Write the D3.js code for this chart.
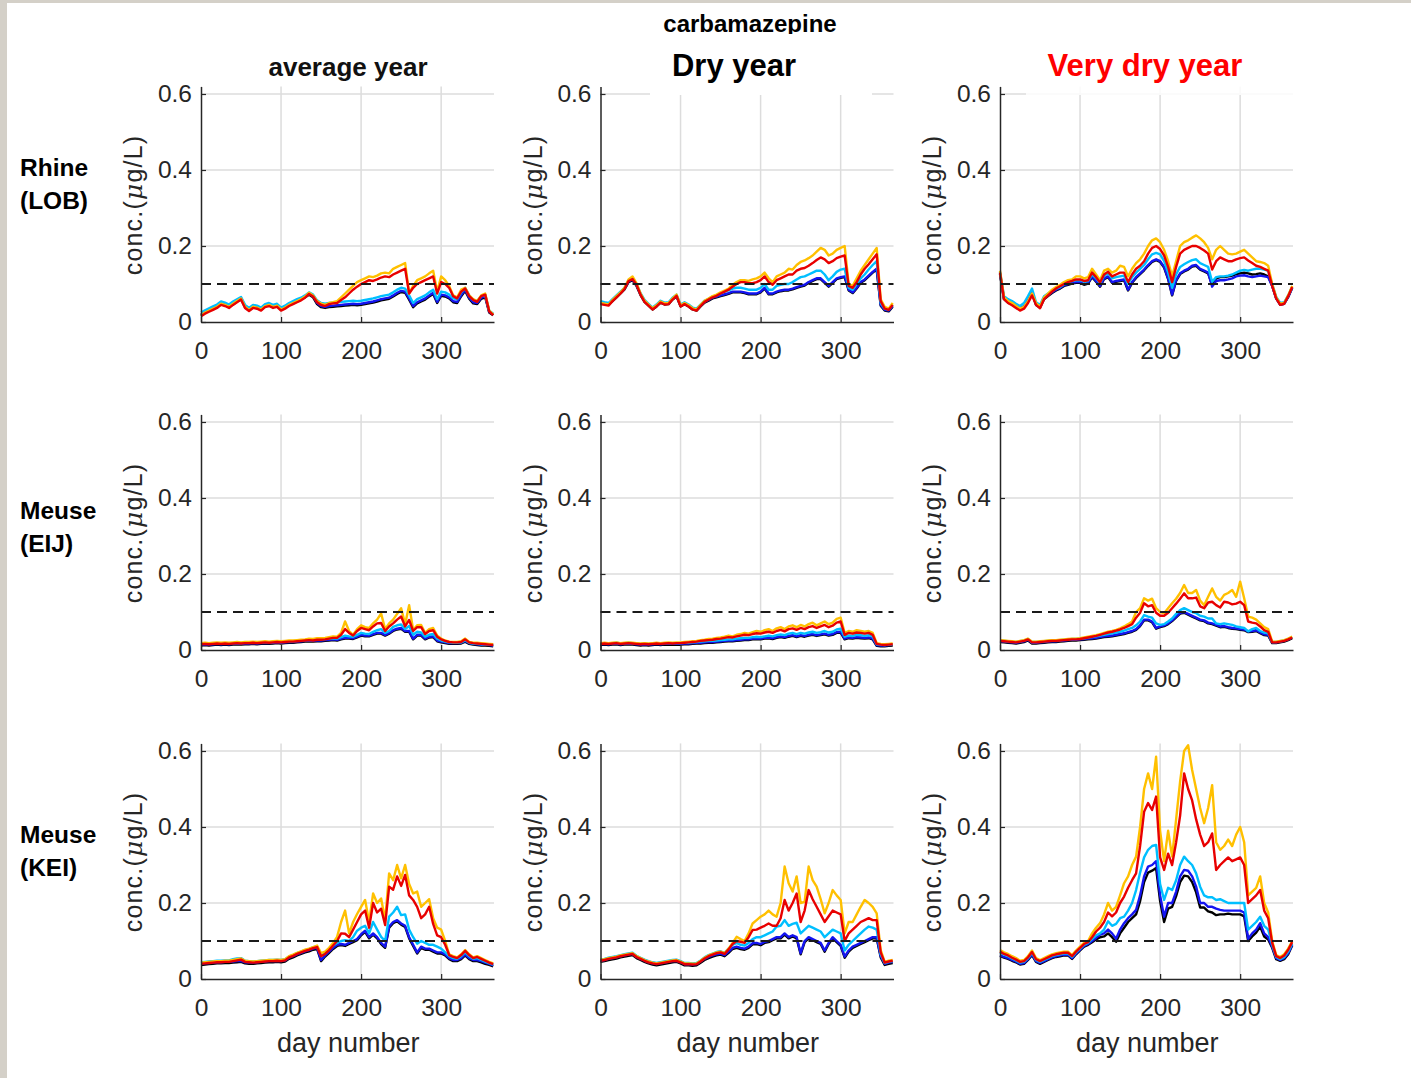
<!DOCTYPE html>
<html>
<head>
<meta charset="utf-8">
<script src="https://cdn.jsdelivr.net/npm/d3@7"></script>
<style>
  body { margin: 0; background: #fff; }
  text { font-family: "Liberation Sans", Arial, Helvetica, sans-serif; }
</style>
</head>
<body>
<script>
// day numbers (every 5th day)
var days = [0,5,10,15,20,25,30,35,40,45,50,55,60,65,70,75,80,85,90,95,
            100,105,110,115,120,125,130,135,140,145,150,155,160,165,170,175,180,185,190,195,
            200,205,210,215,220,225,230,235,240,245,250,255,260,265,270,275,280,285,290,295,
            300,305,310,315,320,325,330,335,340,345,350,355,360,365];

var columnTitles = ["average year", "Dry year", "Very dry year"];
var rowTitles = [["Rhine", "(LOB)"], ["Meuse", "(EIJ)"], ["Meuse", "(KEI)"]];
var yTicks = [0, 0.2, 0.4, 0.6];
var xTicks = [0, 100, 200, 300];
var threshold = 0.1;

// ---- Rhine (LOB) average year
var lobAvgYellow = [.018,.025,.030,.035,.040,.048,.045,.040,.048,.055,
 .062,.040,.032,.040,.038,.033,.042,.045,.040,.043,
 .033,.038,.045,.050,.055,.060,.067,.077,.070,.055,
 .048,.045,.050,.052,.055,.065,.075,.085,.095,.105,
 .110,.115,.120,.118,.122,.128,.130,.128,.140,.145,
 .150,.155,.075,.095,.110,.115,.120,.128,.135,.080,
 .120,.110,.095,.070,.065,.085,.090,.070,.060,.055,
 .070,.075,.030,.020];
var lobAvgRed = [.015,.022,.027,.032,.037,.045,.042,.037,.045,.052,
 .059,.037,.029,.037,.035,.030,.039,.042,.037,.040,
 .030,.035,.042,.047,.052,.057,.064,.074,.067,.052,
 .045,.042,.047,.049,.050,.058,.065,.075,.085,.093,
 .100,.105,.110,.108,.112,.117,.120,.118,.125,.130,
 .135,.140,.075,.090,.100,.105,.110,.115,.120,.075,
 .105,.100,.090,.068,.062,.080,.088,.068,.058,.053,
 .068,.072,.028,.018];
var lobAvgCyan = [.025,.031,.036,.041,.046,.054,.051,.046,.054,.060,
 .066,.045,.037,.045,.043,.038,.047,.050,.045,.048,
 .038,.043,.050,.055,.060,.064,.070,.078,.072,.057,
 .050,.048,.050,.051,.052,.053,.054,.055,.056,.055,
 .056,.058,.060,.062,.065,.068,.070,.072,.078,.085,
 .090,.088,.070,.050,.060,.065,.070,.078,.085,.060,
 .080,.078,.072,.062,.060,.078,.090,.070,.058,.055,
 .068,.072,.030,.022];
var lobAvgBlue = [.020,.027,.032,.037,.042,.050,.047,.042,.050,.057,
 .063,.042,.034,.042,.040,.035,.044,.047,.042,.045,
 .035,.040,.047,.052,.057,.062,.068,.075,.068,.050,
 .042,.040,.042,.043,.044,.045,.046,.047,.048,.047,
 .048,.050,.052,.054,.057,.060,.062,.064,.070,.077,
 .082,.080,.062,.042,.052,.057,.062,.070,.077,.053,
 .072,.070,.065,.055,.053,.071,.085,.064,.052,.050,
 .064,.068,.027,.020];
var lobAvgBlack = [.018,.025,.030,.035,.040,.047,.044,.039,.047,.054,
 .060,.039,.031,.039,.037,.032,.041,.044,.039,.042,
 .032,.037,.044,.049,.054,.059,.065,.072,.065,.047,
 .039,.037,.039,.040,.041,.042,.043,.044,.045,.044,
 .045,.047,.049,.051,.054,.057,.059,.061,.067,.074,
 .079,.077,.059,.039,.049,.054,.059,.067,.074,.050,
 .069,.067,.062,.052,.050,.068,.082,.061,.049,.047,
 .061,.065,.025,.018];

// ---- Rhine (LOB) dry year
var lobDryYellow = [.050,.048,.046,.058,.068,.078,.090,.112,.120,.102,
 .075,.056,.046,.036,.044,.054,.049,.050,.062,.072,
 .044,.050,.044,.036,.033,.045,.056,.062,.068,.072,
 .078,.083,.088,.098,.105,.110,.110,.108,.112,.115,
 .120,.130,.115,.105,.120,.125,.130,.140,.138,.150,
 .158,.162,.168,.175,.185,.195,.190,.175,.180,.190,
 .195,.200,.100,.095,.115,.135,.150,.165,.180,.195,
 .060,.040,.035,.050];
var lobDryRed = [.047,.045,.043,.055,.065,.075,.087,.108,.113,.098,
 .072,.053,.043,.033,.041,.051,.046,.047,.059,.069,
 .041,.047,.041,.033,.030,.042,.053,.059,.065,.069,
 .075,.080,.085,.093,.100,.105,.105,.102,.102,.105,
 .110,.120,.105,.098,.110,.115,.120,.125,.125,.135,
 .140,.142,.148,.155,.163,.170,.165,.155,.160,.168,
 .172,.175,.095,.090,.105,.125,.140,.152,.165,.178,
 .055,.035,.032,.045];
var lobDryCyan = [.055,.052,.050,.060,.070,.080,.090,.110,.115,.100,
 .076,.058,.048,.038,.046,.056,.051,.052,.064,.072,
 .046,.052,.046,.038,.035,.046,.056,.061,.067,.070,
 .075,.080,.083,.088,.090,.090,.088,.085,.085,.085,
 .090,.100,.085,.085,.095,.098,.100,.100,.105,.112,
 .118,.120,.125,.130,.135,.135,.125,.110,.120,.132,
 .138,.140,.090,.085,.100,.115,.125,.138,.150,.160,
 .050,.035,.033,.045];
var lobDryBlue = [.052,.049,.047,.057,.067,.077,.088,.107,.112,.097,
 .073,.055,.045,.035,.043,.053,.048,.049,.061,.069,
 .043,.049,.043,.035,.032,.043,.053,.058,.064,.067,
 .070,.073,.076,.080,.080,.080,.078,.075,.075,.075,
 .080,.090,.075,.075,.080,.083,.085,.085,.088,.092,
 .095,.098,.105,.110,.115,.115,.105,.095,.105,.115,
 .118,.120,.085,.078,.090,.105,.112,.122,.132,.140,
 .045,.032,.030,.042];
var lobDryBlack = [.050,.047,.045,.055,.065,.075,.086,.105,.110,.095,
 .071,.053,.043,.033,.041,.051,.046,.047,.059,.067,
 .041,.047,.041,.033,.030,.041,.051,.056,.062,.065,
 .068,.071,.074,.078,.078,.078,.076,.073,.073,.073,
 .078,.088,.073,.073,.078,.081,.083,.083,.086,.090,
 .093,.096,.103,.108,.113,.113,.103,.093,.103,.113,
 .116,.118,.083,.076,.088,.103,.110,.120,.130,.138,
 .043,.030,.028,.040];

// ---- Rhine (LOB) very dry year
var lobVdryYellow = [.135,.065,.055,.050,.042,.035,.040,.055,.075,.050,
 .040,.065,.075,.085,.092,.098,.105,.110,.112,.120,
 .120,.115,.118,.140,.125,.110,.135,.140,.130,.135,
 .148,.145,.120,.140,.155,.165,.180,.200,.215,.220,
 .210,.190,.160,.120,.160,.200,.210,.215,.222,.228,
 .220,.210,.195,.165,.190,.200,.190,.180,.178,.180,
 .185,.190,.180,.170,.160,.158,.155,.148,.100,.065,
 .048,.050,.070,.095];
var lobVdryRed = [.130,.060,.050,.044,.037,.030,.035,.050,.070,.045,
 .036,.060,.070,.080,.088,.094,.100,.105,.108,.112,
 .112,.108,.110,.130,.118,.104,.125,.132,.120,.125,
 .130,.130,.105,.125,.140,.148,.160,.180,.195,.200,
 .192,.175,.145,.105,.145,.180,.190,.195,.200,.200,
 .195,.188,.180,.138,.160,.170,.165,.160,.160,.165,
 .168,.170,.162,.155,.148,.145,.140,.135,.095,.062,
 .045,.048,.068,.092];
var lobVdryCyan = [.132,.068,.060,.055,.048,.042,.050,.068,.088,.052,
 .045,.068,.075,.082,.088,.092,.100,.105,.108,.110,
 .110,.106,.108,.125,.115,.102,.122,.128,.115,.118,
 .120,.122,.100,.118,.130,.140,.150,.165,.178,.182,
 .178,.160,.130,.090,.125,.145,.152,.158,.163,.165,
 .155,.150,.145,.106,.118,.120,.120,.122,.125,.130,
 .135,.137,.135,.138,.140,.140,.138,.135,.100,.066,
 .050,.052,.070,.093];
var lobVdryBlue = [.128,.062,.053,.048,.042,.036,.042,.058,.078,.047,
 .040,.062,.070,.078,.085,.090,.097,.100,.103,.105,
 .105,.100,.103,.120,.108,.095,.115,.120,.105,.108,
 .110,.112,.085,.105,.118,.128,.138,.150,.160,.165,
 .160,.145,.115,.072,.110,.128,.135,.140,.148,.150,
 .140,.135,.130,.093,.108,.110,.110,.112,.115,.120,
 .122,.123,.120,.118,.120,.122,.120,.118,.095,.062,
 .046,.048,.066,.090];
var lobVdryBlack = [.126,.060,.051,.046,.040,.034,.040,.056,.076,.045,
 .038,.060,.068,.076,.083,.088,.095,.098,.101,.103,
 .103,.098,.101,.118,.106,.093,.113,.118,.103,.106,
 .108,.110,.083,.103,.116,.126,.136,.148,.158,.163,
 .158,.143,.113,.070,.108,.126,.133,.138,.146,.148,
 .138,.133,.128,.098,.115,.118,.118,.120,.122,.126,
 .128,.130,.128,.125,.126,.128,.125,.120,.095,.062,
 .046,.048,.066,.090];

// ---- Meuse (EIJ) average year
var eijAvgYellow = [.018,.019,.018,.019,.020,.019,.020,.019,.020,.021,
 .020,.021,.021,.022,.021,.022,.023,.022,.023,.024,
 .023,.024,.025,.025,.026,.027,.028,.030,.029,.031,
 .031,.032,.034,.036,.035,.045,.075,.050,.040,.055,
 .065,.060,.058,.070,.080,.096,.055,.070,.080,.095,
 .110,.068,.118,.053,.065,.066,.045,.055,.058,.038,
 .030,.025,.022,.021,.021,.023,.030,.021,.019,.019,
 .018,.017,.016,.015];
var eijAvgRed = [.015,.016,.015,.016,.017,.016,.017,.016,.017,.018,
 .017,.018,.018,.019,.018,.019,.020,.019,.020,.021,
 .020,.021,.022,.022,.023,.024,.025,.026,.025,.027,
 .027,.028,.030,.032,.032,.040,.055,.045,.038,.050,
 .058,.055,.052,.062,.070,.071,.050,.062,.070,.080,
 .088,.062,.079,.050,.060,.060,.042,.050,.052,.035,
 .028,.024,.021,.020,.020,.021,.028,.020,.018,.017,
 .016,.015,.014,.013];
var eijAvgCyan = [.016,.017,.016,.017,.018,.017,.018,.017,.018,.019,
 .018,.019,.019,.020,.019,.020,.021,.020,.021,.022,
 .021,.022,.023,.023,.024,.025,.026,.027,.026,.028,
 .028,.029,.030,.031,.030,.034,.038,.036,.035,.040,
 .045,.043,.042,.048,.052,.055,.045,.050,.061,.065,
 .067,.055,.063,.040,.048,.046,.035,.040,.042,.030,
 .025,.022,.020,.019,.019,.020,.026,.019,.017,.016,
 .015,.015,.014,.013];
var eijAvgBlue = [.014,.015,.014,.015,.016,.015,.016,.015,.016,.017,
 .016,.017,.017,.018,.017,.018,.019,.018,.019,.020,
 .019,.020,.021,.021,.022,.023,.024,.025,.024,.025,
 .025,.026,.027,.028,.027,.030,.032,.032,.031,.035,
 .040,.038,.038,.042,.045,.045,.040,.045,.052,.056,
 .058,.050,.050,.030,.040,.040,.030,.035,.036,.025,
 .022,.020,.018,.018,.018,.019,.024,.018,.016,.015,
 .014,.014,.013,.012];
var eijAvgBlack = [.012,.013,.012,.013,.014,.013,.014,.013,.014,.015,
 .014,.015,.015,.016,.015,.016,.017,.016,.017,.018,
 .017,.018,.019,.019,.020,.021,.022,.023,.022,.023,
 .023,.024,.025,.026,.025,.028,.030,.030,.029,.033,
 .038,.036,.036,.040,.043,.043,.038,.043,.050,.054,
 .056,.048,.048,.028,.038,.038,.028,.033,.034,.023,
 .020,.018,.016,.016,.016,.017,.022,.016,.014,.013,
 .012,.012,.011,.010];

// ---- Meuse (EIJ) dry year
var eijDryYellow = [.018,.019,.018,.019,.020,.018,.019,.020,.019,.018,
 .017,.018,.017,.018,.019,.018,.019,.020,.019,.020,
 .020,.021,.022,.023,.024,.026,.027,.029,.030,.032,
 .033,.035,.038,.036,.040,.042,.045,.043,.047,.050,
 .048,.052,.055,.050,.057,.060,.055,.062,.065,.060,
 .066,.062,.068,.072,.065,.070,.075,.068,.072,.082,
 .085,.045,.050,.048,.052,.050,.048,.050,.045,.018,
 .016,.015,.016,.017];
var eijDryRed = [.016,.017,.016,.017,.018,.016,.017,.018,.017,.016,
 .015,.016,.015,.016,.017,.016,.017,.018,.017,.018,
 .018,.019,.020,.021,.022,.024,.025,.026,.027,.029,
 .030,.032,.034,.033,.036,.038,.040,.039,.042,.044,
 .043,.046,.048,.045,.050,.053,.049,.055,.057,.053,
 .058,.055,.060,.063,.058,.062,.066,.060,.064,.072,
 .075,.040,.045,.043,.046,.045,.043,.045,.040,.016,
 .014,.013,.014,.015];
var eijDryCyan = [.017,.018,.017,.018,.019,.017,.018,.019,.018,.017,
 .016,.017,.016,.017,.018,.017,.018,.018,.018,.018,
 .018,.019,.019,.020,.021,.022,.023,.024,.024,.025,
 .026,.027,.028,.028,.030,.031,.032,.032,.034,.035,
 .034,.036,.038,.036,.039,.041,.039,.043,.045,.042,
 .045,.043,.046,.048,.045,.047,.050,.046,.048,.054,
 .056,.035,.038,.037,.040,.039,.037,.039,.035,.015,
 .014,.013,.014,.015];
var eijDryBlue = [.015,.016,.015,.016,.017,.015,.016,.017,.016,.015,
 .014,.015,.014,.015,.016,.015,.016,.016,.016,.016,
 .016,.017,.017,.018,.019,.019,.020,.021,.021,.022,
 .023,.024,.025,.025,.026,.027,.028,.028,.030,.031,
 .030,.032,.033,.031,.034,.036,.034,.037,.039,.036,
 .039,.037,.040,.042,.039,.041,.043,.040,.042,.047,
 .048,.030,.033,.032,.034,.033,.032,.033,.030,.013,
 .012,.012,.013,.014];
var eijDryBlack = [.013,.014,.013,.014,.015,.013,.014,.015,.014,.013,
 .012,.013,.012,.013,.014,.013,.014,.014,.014,.014,
 .014,.015,.015,.016,.017,.017,.018,.019,.019,.020,
 .021,.022,.023,.023,.024,.025,.026,.026,.028,.029,
 .028,.030,.031,.029,.032,.034,.032,.035,.037,.034,
 .037,.035,.038,.040,.037,.039,.041,.038,.040,.045,
 .046,.028,.031,.030,.032,.031,.030,.031,.028,.011,
 .010,.010,.011,.012];

// ---- Meuse (EIJ) very dry year
var eijVdryYellow = [.026,.025,.024,.023,.022,.024,.026,.030,.022,.022,
 .023,.024,.025,.026,.026,.027,.028,.029,.030,.030,
 .031,.033,.035,.037,.039,.042,.045,.048,.050,.053,
 .057,.062,.068,.075,.100,.110,.136,.130,.135,.110,
 .100,.097,.110,.123,.135,.150,.171,.150,.150,.158,
 .130,.118,.140,.162,.140,.130,.145,.150,.158,.140,
 .180,.136,.088,.085,.080,.070,.060,.055,.022,.022,
 .024,.026,.030,.035];
var eijVdryRed = [.024,.023,.022,.021,.020,.022,.024,.028,.020,.020,
 .021,.022,.023,.024,.024,.025,.026,.027,.028,.028,
 .029,.031,.033,.035,.037,.040,.043,.046,.048,.051,
 .054,.058,.063,.068,.085,.098,.123,.115,.118,.098,
 .090,.090,.098,.110,.122,.135,.149,.136,.136,.138,
 .115,.110,.125,.127,.118,.112,.127,.125,.120,.122,
 .127,.118,.075,.072,.070,.062,.052,.048,.020,.020,
 .022,.024,.028,.033];
var eijVdryCyan = [.025,.024,.023,.022,.021,.023,.025,.029,.021,.021,
 .022,.023,.024,.025,.025,.026,.027,.028,.029,.029,
 .030,.031,.033,.034,.036,.038,.040,.042,.044,.046,
 .048,.051,.055,.058,.065,.075,.092,.088,.085,.070,
 .066,.068,.075,.083,.095,.105,.110,.105,.100,.097,
 .090,.088,.083,.083,.070,.068,.070,.068,.066,.062,
 .060,.058,.049,.055,.058,.050,.046,.044,.021,.021,
 .023,.025,.029,.034];
var eijVdryBlue = [.023,.022,.021,.020,.019,.021,.023,.027,.019,.019,
 .020,.021,.022,.023,.023,.024,.025,.026,.027,.027,
 .028,.029,.030,.031,.032,.034,.036,.037,.038,.040,
 .042,.044,.047,.050,.055,.065,.080,.080,.075,.058,
 .062,.065,.070,.078,.088,.098,.100,.095,.090,.085,
 .080,.078,.072,.070,.066,.062,.063,.060,.058,.057,
 .055,.054,.049,.050,.052,.046,.041,.040,.020,.020,
 .022,.024,.028,.033];
var eijVdryBlack = [.021,.020,.019,.018,.017,.019,.021,.025,.017,.017,
 .018,.019,.020,.021,.021,.022,.023,.024,.025,.025,
 .026,.027,.028,.029,.030,.032,.034,.035,.036,.038,
 .040,.042,.045,.048,.053,.063,.078,.078,.073,.056,
 .060,.063,.068,.076,.086,.096,.098,.093,.088,.083,
 .078,.076,.070,.068,.064,.060,.061,.058,.056,.055,
 .053,.052,.047,.048,.050,.044,.039,.038,.018,.018,
 .020,.022,.026,.031];

// ---- Meuse (KEI) average year
var keiAvgYellow = [.043,.044,.045,.046,.047,.047,.048,.048,.050,.052,
 .054,.048,.047,.046,.047,.048,.049,.050,.050,.051,
 .050,.052,.060,.064,.069,.073,.077,.080,.084,.088,
 .068,.072,.082,.095,.111,.150,.180,.120,.150,.171,
 .190,.208,.150,.225,.200,.212,.155,.278,.260,.300,
 .265,.300,.250,.225,.230,.190,.200,.210,.160,.135,
 .130,.100,.065,.060,.057,.065,.076,.065,.057,.060,
 .055,.050,.045,.041];
var keiAvgRed = [.040,.041,.042,.043,.044,.044,.045,.045,.047,.049,
 .051,.045,.044,.043,.044,.045,.046,.047,.047,.048,
 .047,.049,.057,.061,.066,.070,.074,.077,.081,.084,
 .060,.066,.076,.088,.100,.120,.119,.110,.130,.150,
 .170,.180,.135,.200,.175,.185,.142,.243,.235,.270,
 .245,.274,.220,.208,.190,.160,.170,.190,.145,.115,
 .110,.090,.063,.058,.055,.063,.074,.063,.055,.058,
 .053,.048,.043,.039];
var keiAvgCyan = [.044,.045,.046,.047,.048,.048,.049,.049,.052,.054,
 .055,.048,.047,.046,.047,.048,.049,.050,.050,.051,
 .050,.052,.059,.063,.068,.072,.076,.079,.083,.086,
 .062,.068,.078,.088,.095,.100,.102,.100,.110,.127,
 .135,.140,.120,.150,.130,.111,.100,.164,.175,.190,
 .168,.170,.130,.110,.093,.100,.095,.090,.090,.085,
 .080,.070,.060,.055,.053,.060,.070,.060,.053,.055,
 .050,.046,.042,.038];
var keiAvgBlue = [.040,.041,.042,.043,.044,.044,.045,.045,.046,.047,
 .048,.044,.043,.043,.044,.045,.046,.047,.047,.048,
 .047,.049,.056,.060,.065,.069,.073,.076,.080,.082,
 .050,.062,.072,.082,.090,.092,.090,.095,.100,.105,
 .118,.127,.110,.120,.110,.095,.085,.138,.150,.155,
 .146,.140,.110,.090,.070,.085,.080,.080,.075,.070,
 .070,.065,.055,.050,.050,.055,.065,.055,.050,.050,
 .047,.043,.040,.036];
var keiAvgBlack = [.037,.038,.039,.040,.041,.041,.042,.042,.043,.044,
 .045,.041,.040,.040,.041,.042,.043,.044,.044,.045,
 .044,.046,.053,.057,.062,.066,.070,.073,.077,.079,
 .047,.059,.069,.079,.087,.089,.087,.092,.097,.102,
 .115,.124,.107,.117,.107,.092,.082,.135,.147,.152,
 .143,.137,.107,.087,.067,.082,.077,.077,.072,.067,
 .067,.062,.052,.047,.047,.052,.062,.052,.047,.047,
 .044,.040,.037,.033];

// ---- Meuse (KEI) dry year
var keiDryYellow = [.050,.052,.055,.057,.059,.062,.064,.066,.068,.060,
 .055,.050,.046,.043,.041,.043,.045,.047,.049,.050,
 .046,.041,.041,.040,.041,.048,.056,.062,.066,.070,
 .072,.068,.080,.095,.111,.105,.100,.120,.146,.155,
 .164,.170,.180,.170,.164,.200,.296,.252,.230,.270,
 .200,.203,.296,.260,.243,.210,.173,.200,.234,.220,
 .208,.120,.150,.150,.170,.190,.208,.200,.190,.173,
 .076,.045,.048,.050];
var keiDryRed = [.048,.050,.053,.055,.057,.060,.062,.064,.066,.058,
 .053,.048,.044,.041,.039,.041,.043,.045,.047,.048,
 .044,.039,.039,.038,.039,.046,.054,.060,.064,.068,
 .070,.066,.078,.092,.100,.098,.095,.110,.129,.130,
 .135,.140,.146,.140,.140,.160,.208,.180,.200,.225,
 .150,.180,.234,.210,.190,.170,.150,.165,.180,.175,
 .170,.100,.120,.130,.140,.150,.155,.160,.155,.155,
 .070,.043,.046,.048];
var keiDryCyan = [.051,.053,.056,.058,.060,.063,.065,.067,.069,.061,
 .056,.051,.047,.044,.042,.044,.046,.048,.050,.051,
 .047,.042,.042,.041,.042,.049,.057,.063,.067,.071,
 .073,.069,.080,.090,.095,.090,.088,.095,.105,.110,
 .110,.115,.120,.125,.138,.140,.155,.140,.145,.148,
 .120,.130,.140,.135,.130,.125,.110,.120,.130,.125,
 .120,.075,.090,.100,.110,.120,.130,.138,.135,.130,
 .065,.042,.045,.047];
var keiDryBlue = [.048,.050,.053,.055,.057,.060,.062,.064,.066,.058,
 .053,.048,.044,.041,.039,.041,.043,.045,.047,.048,
 .044,.039,.039,.038,.039,.046,.053,.058,.062,.065,
 .067,.063,.072,.082,.085,.082,.080,.085,.094,.095,
 .092,.098,.100,.105,.110,.110,.120,.110,.115,.110,
 .068,.100,.110,.105,.100,.095,.075,.095,.110,.100,
 .090,.059,.075,.085,.090,.095,.100,.105,.110,.110,
 .060,.040,.043,.045];
var keiDryBlack = [.045,.047,.050,.052,.054,.057,.059,.061,.063,.055,
 .050,.045,.041,.038,.036,.038,.040,.042,.044,.045,
 .041,.036,.036,.035,.036,.043,.050,.055,.059,.062,
 .064,.060,.069,.079,.082,.079,.077,.082,.091,.092,
 .089,.095,.097,.102,.107,.107,.117,.107,.112,.107,
 .065,.097,.107,.102,.097,.092,.072,.092,.107,.097,
 .087,.056,.072,.082,.087,.092,.097,.102,.107,.107,
 .057,.037,.040,.042];

// ---- Meuse (KEI) very dry year
var keiVdryYellow = [.076,.070,.066,.060,.055,.048,.050,.060,.075,.055,
 .050,.055,.060,.065,.068,.070,.072,.072,.063,.075,
 .085,.095,.100,.120,.135,.147,.170,.200,.180,.190,
 .220,.252,.270,.300,.322,.400,.500,.541,.500,.585,
 .390,.310,.390,.322,.420,.520,.600,.615,.550,.500,
 .450,.410,.450,.510,.360,.340,.350,.367,.350,.380,
 .400,.360,.220,.230,.240,.270,.200,.175,.100,.063,
 .058,.065,.080,.100];
var keiVdryRed = [.072,.066,.062,.056,.051,.045,.047,.057,.071,.052,
 .047,.052,.057,.062,.065,.067,.069,.069,.060,.072,
 .082,.092,.097,.110,.125,.135,.150,.175,.165,.175,
 .200,.217,.240,.260,.278,.350,.440,.463,.445,.480,
 .320,.287,.330,.300,.360,.430,.541,.500,.470,.420,
 .380,.350,.360,.383,.287,.300,.310,.320,.310,.315,
 .320,.300,.200,.210,.220,.234,.180,.160,.095,.060,
 .055,.062,.077,.097];
var keiVdryCyan = [.070,.064,.060,.054,.049,.043,.045,.055,.069,.050,
 .045,.050,.055,.060,.063,.065,.067,.067,.058,.070,
 .080,.090,.095,.105,.115,.120,.130,.152,.140,.145,
 .160,.164,.180,.200,.234,.280,.320,.340,.350,.353,
 .250,.208,.240,.234,.260,.300,.322,.310,.300,.278,
 .243,.220,.215,.215,.208,.210,.205,.200,.200,.200,
 .200,.200,.130,.140,.150,.164,.140,.130,.090,.058,
 .052,.058,.072,.093];
var keiVdryBlue = [.063,.058,.055,.050,.046,.040,.042,.052,.065,.047,
 .042,.047,.052,.057,.060,.062,.064,.064,.055,.067,
 .077,.087,.092,.100,.108,.117,.120,.130,.120,.106,
 .130,.147,.160,.170,.182,.220,.270,.296,.300,.310,
 .220,.164,.200,.200,.230,.270,.287,.285,.270,.243,
 .200,.200,.190,.190,.185,.182,.180,.180,.180,.180,
 .180,.175,.106,.120,.130,.147,.120,.110,.085,.055,
 .050,.055,.068,.090];
var keiVdryBlack = [.061,.056,.053,.048,.044,.038,.040,.050,.063,.045,
 .040,.045,.050,.055,.058,.060,.062,.062,.053,.065,
 .075,.085,.090,.097,.104,.110,.112,.120,.110,.098,
 .120,.135,.150,.160,.170,.205,.255,.280,.285,.292,
 .205,.150,.185,.190,.218,.255,.272,.270,.255,.228,
 .188,.188,.178,.175,.168,.170,.170,.172,.170,.170,
 .170,.165,.100,.112,.122,.138,.112,.104,.082,.052,
 .048,.052,.065,.088];

// drawing order: black, blue, cyan, yellow, red
var seriesColors = ["#000000", "#1414f0", "#00bfff", "#ffc000", "#e80000"];
var panels = [
  [[lobAvgBlack, lobAvgBlue, lobAvgCyan, lobAvgYellow, lobAvgRed],
   [lobDryBlack, lobDryBlue, lobDryCyan, lobDryYellow, lobDryRed],
   [lobVdryBlack, lobVdryBlue, lobVdryCyan, lobVdryYellow, lobVdryRed]],
  [[eijAvgBlack, eijAvgBlue, eijAvgCyan, eijAvgYellow, eijAvgRed],
   [eijDryBlack, eijDryBlue, eijDryCyan, eijDryYellow, eijDryRed],
   [eijVdryBlack, eijVdryBlue, eijVdryCyan, eijVdryYellow, eijVdryRed]],
  [[keiAvgBlack, keiAvgBlue, keiAvgCyan, keiAvgYellow, keiAvgRed],
   [keiDryBlack, keiDryBlue, keiDryCyan, keiDryYellow, keiDryRed],
   [keiVdryBlack, keiVdryBlue, keiVdryCyan, keiVdryYellow, keiVdryRed]]
];

var colX = [201, 600.5, 1000];   // pixel of day 0
var rowY = [322, 650, 979];      // pixel of conc 0
var plotW = 293;
var axisCol = "#262626";

var svg = d3.select("body").append("svg")
            .attr("width", 1411)
            .attr("height", 1078);

// beige frame of the screenshot
svg.append("rect").attr("x", 0).attr("y", 0).attr("width", 1411).attr("height", 3).attr("fill", "#d4d0c8");
svg.append("rect").attr("x", 0).attr("y", 0).attr("width", 7).attr("height", 1078).attr("fill", "#d4d0c8");

panels.forEach(function(row, r) {
  row.forEach(function(series, c) {
    var x = d3.scaleLinear().domain([0, 366]).range([colX[c], colX[c] + plotW]);
    var y = d3.scaleLinear().domain([0, 0.62]).range([rowY[r], rowY[r] - 0.62 * 380]);
    var g = svg.append("g");

    // grid
    g.selectAll(".vg").data([100, 200, 300]).enter()
      .append("line")
      .attr("x1", function(d) { return x(d); }).attr("x2", function(d) { return x(d); })
      .attr("y1", y(0)).attr("y2", y(0.62))
      .attr("stroke", "#dcdcdc").attr("stroke-width", 1.5);
    g.selectAll(".hg").data([0.2, 0.4, 0.6]).enter()
      .append("line")
      .attr("x1", x(0)).attr("x2", x(366))
      .attr("y1", function(d) { return y(d); }).attr("y2", function(d) { return y(d); })
      .attr("stroke", "#dcdcdc").attr("stroke-width", 1.5);

    // data lines
    var line = d3.line()
                 .x(function(d, i) { return x(days[i]); })
                 .y(function(d) { return y(d); });
    g.selectAll(".series").data(series).enter()
      .append("path")
      .attr("d", function(d) { return line(d); })
      .attr("fill", "none")
      .attr("stroke", function(d, i) { return seriesColors[i]; })
      .attr("stroke-width", 2.4)
      .attr("stroke-linejoin", "round");

    // 0.1 threshold
    g.append("line")
      .attr("x1", x(0)).attr("x2", x(366))
      .attr("y1", y(threshold)).attr("y2", y(threshold))
      .attr("stroke", "#1a1a1a").attr("stroke-width", 2.2)
      .attr("stroke-dasharray", "10,6");

    // axes, ticks pointing inward like matlab
    var yAxis = d3.axisLeft(y).tickValues(yTicks).tickSize(-5).tickSizeOuter(0).tickPadding(9)
                  .tickFormat(function(d) { return d === 0 ? "0" : d.toFixed(1); });
    var xAxis = d3.axisBottom(x).tickValues(xTicks).tickSize(-5).tickSizeOuter(0).tickPadding(20)
                  .tickFormat(d3.format("d"));
    var ya = g.append("g").attr("transform", "translate(" + x(0) + ",0)").call(yAxis);
    var xa = g.append("g").attr("transform", "translate(0," + y(0) + ")").call(xAxis);
    [ya, xa].forEach(function(a) {
      a.select(".domain").attr("stroke", axisCol).attr("stroke-width", 1.5);
      a.selectAll(".tick line").attr("stroke", axisCol).attr("stroke-width", 1.2);
      a.selectAll(".tick text").attr("fill", axisCol)
        .style("font-size", "24.5px")
        .style("font-family", "'Liberation Sans', Arial, sans-serif");
    });

    // y label
    var yl = g.append("text")
              .attr("transform", "translate(" + (x(0) - 59) + "," + (y(0) - 117) + ") rotate(-90)")
              .attr("text-anchor", "middle")
              .attr("fill", axisCol)
              .style("font-size", "25px")
              .style("letter-spacing", "1.2px");
    yl.append("tspan").text("conc.(");
    yl.append("tspan").text("\u03bc").style("font-style", "italic").style("font-family", "'DejaVu Serif', serif");
    yl.append("tspan").text("g/L)");

    if (r === 2) {
      g.append("text")
        .attr("x", x(184)).attr("y", 1052)
        .attr("text-anchor", "middle")
        .attr("fill", axisCol)
        .style("font-size", "27px")
        .text("day number");
    }
  });
});

// row labels
rowTitles.forEach(function(t, r) {
  var base = [176, 519, 843][r];
  svg.append("text").attr("x", 20).attr("y", base)
     .style("font-size", "24.5px").style("font-weight", "bold").text(t[0]);
  svg.append("text").attr("x", 20).attr("y", base + 33)
     .style("font-size", "24.5px").style("font-weight", "bold").text(t[1]);
});

// super title
svg.append("text").attr("x", 750).attr("y", 32)
   .attr("text-anchor", "middle")
   .style("font-size", "24px").style("font-weight", "bold")
   .text("carbamazepine");

// column titles (the two pasted ones sit on white boxes)
svg.append("rect").attr("x", 650).attr("y", 34).attr("width", 222).attr("height", 61).attr("fill", "#fff");
svg.append("rect").attr("x", 1026).attr("y", 36).attr("width", 270).attr("height", 59).attr("fill", "#fff").attr("fill-opacity", 0.85);

var titleX = [348, 734, 1145];
var titleSize = [26, 31, 31];
var titleColor = ["#111", "#000", "#ff0000"];
columnTitles.forEach(function(t, c) {
  svg.append("text").attr("x", titleX[c]).attr("y", 76)
     .attr("text-anchor", "middle")
     .attr("fill", titleColor[c])
     .style("font-size", titleSize[c] + "px").style("font-weight", "bold")
     .text(t);
});
</script>
</body>
</html>
